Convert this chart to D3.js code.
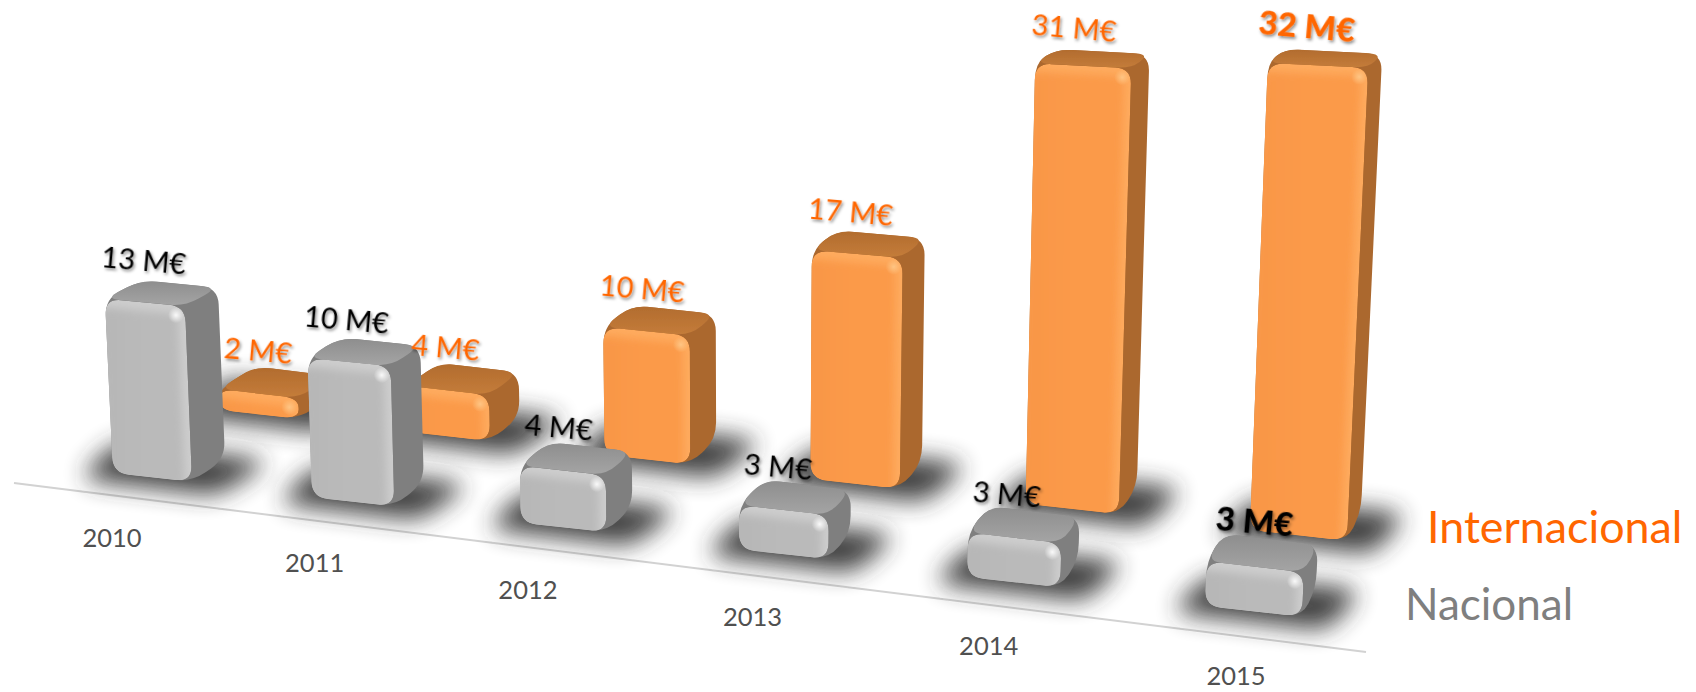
<!DOCTYPE html>
<html><head><meta charset="utf-8">
<script src="https://cdn.jsdelivr.net/npm/d3@7"></script>
<style>html,body{margin:0;padding:0;background:#fff}svg{display:block}text{font-family:Lato,"Open Sans",sans-serif}</style>
</head><body><svg id="c" width="1696" height="692"></svg>
<script>
const years = [2010, 2011, 2012, 2013, 2014, 2015];
const nacional = [13, 10, 4, 3, 3, 3];
const internacional = [2, 4, 10, 17, 31, 32];
const seriesNames = ["Nacional", "Internacional"];
const unit = " M€";

const W = 1696, H = 692;
const svg = d3.select("#c");
const defs = svg.append("defs");

// Perspective: row index -> position 0..1 along the receding floor line
const rowIndex = d3.scalePoint().domain(years).range([20, 25]);
const depth = d3.scalePow().exponent(2).domain([20, 25]).range([0, 1]);
const t = y => depth(rowIndex(y));

const nacX = d3.scaleLinear([0, 1], [113, 1205]);
const nacY = d3.scaleLinear([0, 1], [473, 606]);
const intX = d3.scaleLinear([0, 1], [220, 1250]);
const intY = d3.scaleLinear([0, 1], [410, 530]);
const labX = d3.scaleLinear([0, 1], [112, 1236]);
const labY = d3.scaleLinear([0, 1], [538, 676]);
const lineX = d3.scaleLinear([0, 1], [14, 1366]);
const lineY = d3.scaleLinear([0, 1], [483, 652]);
const barH = d3.scalePow().exponent(1.08).domain([0, 32]).range([6, 467]);
const riseByRow = {
  Nacional: d3.scaleLinear([0, .18, 1], [-6, 2, 3]),
  Internacional: d3.scaleLinear([0, .78, 1], [-8, -11, 0])
};
const frontW = d3.scaleLinear([0, 1], [79, 97]);
const sideDX = d3.scaleLinear([0, 1], [33, 14]);
const sideDY = d3.scaleLinear([0, 1], [-23, -29]);

const palette = {
  Nacional: {edge:"#cdcdcd", body:"#bababa", low:"#b6b6b6", side:"#7f7f7f", top1:"#a4a4a4", top2:"#8e8e8e", hi:"#ffffff", label:"#000000"},
  Internacional: {edge:"#feab5e", body:"#fb9a4a", low:"#f89645", side:"#ab682f", top1:"#c47c3a", top2:"#b26c2e", hi:"#ffc888", label:"#ff6600"}
};

function blur(id, s) {
  defs.append("filter").attr("id", id).attr("x", "-50%").attr("y", "-50%").attr("width", "200%").attr("height", "200%")
    .append("feGaussianBlur").attr("stdDeviation", s);
}
blur("b10", 12); blur("b4", 4); blur("soft", .7);
const ds = defs.append("filter").attr("id", "txt").attr("x", "-20%").attr("y", "-20%").attr("width", "140%").attr("height", "150%");
ds.append("feDropShadow").attr("dx", 1.5).attr("dy", 2).attr("stdDeviation", 1.6).attr("flood-color", "#000").attr("flood-opacity", .45);

for (const s of seriesNames) {
  const p = palette[s];
  const g = defs.append("linearGradient").attr("id", "top" + s).attr("x1", 0).attr("y1", 0).attr("x2", 0).attr("y2", 1);
  g.append("stop").attr("offset", 0).attr("stop-color", p.top2);
  g.append("stop").attr("offset", 1).attr("stop-color", p.top1);
  const f = defs.append("linearGradient").attr("id", "front" + s).attr("x1", 0).attr("y1", 0).attr("x2", 1).attr("y2", 0);
  f.append("stop").attr("offset", 0).attr("stop-color", p.low);
  f.append("stop").attr("offset", .55).attr("stop-color", p.body);
  f.append("stop").attr("offset", 1).attr("stop-color", p.body);
  const r = defs.append("radialGradient").attr("id", "hi" + s);
  r.append("stop").attr("offset", 0).attr("stop-color", p.hi).attr("stop-opacity", .9);
  r.append("stop").attr("offset", 1).attr("stop-color", p.hi).attr("stop-opacity", 0);
}

function rounded(pts, r) {
  const path = d3.path();
  const n = pts.length;
  for (let i = 0; i < n; i++) {
    const a = pts[(i + n - 1) % n], b = pts[i], c = pts[(i + 1) % n];
    const la = Math.hypot(a[0]-b[0], a[1]-b[1]), lc = Math.hypot(c[0]-b[0], c[1]-b[1]);
    const ra = Math.min(r, la / 2.2), rc = Math.min(r, lc / 2.2);
    const p1 = [b[0] + (a[0]-b[0]) * ra / la, b[1] + (a[1]-b[1]) * ra / la];
    const p2 = [b[0] + (c[0]-b[0]) * rc / lc, b[1] + (c[1]-b[1]) * rc / lc];
    if (i === 0) path.moveTo(p1[0], p1[1]); else path.lineTo(p1[0], p1[1]);
    path.quadraticCurveTo(b[0], b[1], p2[0], p2[1]);
  }
  path.closePath();
  return path.toString();
}

function geom(series, year, value) {
  const tt = t(year);
  const x0 = series === "Nacional" ? nacX(tt) : intX(tt);
  const y0 = series === "Nacional" ? nacY(tt) : intY(tt);
  const h = barH(value) + riseByRow[series](tt);
  const w = frontW(tt);
  const lean = (x, hh) => x + hh * (x - 735) / 13500;
  const dx = sideDX(tt), dyB = sideDY(tt), dyT = dyB * (1 - h / 900);
  const slopeB = 0.11, slopeT = 0.12 * (1 - h / 800);
  const fbl = [x0, y0];
  const fbr = [x0 + w, y0 + w * slopeB];
  const ftl = [lean(x0, h), y0 - h];
  const ftr = [lean(x0 + w, h), y0 - h + w * slopeT];
  const btl = [ftl[0] + dx + 3, ftl[1] + dyT];
  const btr = [ftr[0] + dx, ftr[1] + dyT];
  const bbr = [fbr[0] + dx, fbr[1] + dyB];
  return {series, year, value, tt, x0, y0, h, w, fbl, fbr, ftl, ftr, btl, btr, bbr};
}

const gShadow = svg.append("g");
const gBars = svg.append("g");
const gText = svg.append("g");

svg.insert("line", "g")
  .attr("x1", lineX(0)).attr("y1", lineY(0)).attr("x2", lineX(1)).attr("y2", lineY(1))
  .attr("stroke", "#d2d2d2").attr("stroke-width", 2);

let uid = 0;
function drawBar(g) {
  const p = palette[g.series];
  const id = "clip" + (uid++);
  gShadow.append("path")
    .attr("d", rounded([
      [g.fbl[0] - 34, g.fbl[1] + 6],
      [g.fbl[0] + 4, g.fbl[1] - 32],
      [g.bbr[0] + 46, g.bbr[1] + 2],
      [g.fbr[0] + 26, g.fbr[1] + 14]
    ], 18))
    .attr("fill", "#333").attr("opacity", .92).attr("filter", "url(#b10)");

  const b = gBars.append("g").attr("filter", "url(#soft)");
  b.append("path").attr("d", rounded([g.fbl, g.ftl, g.btl, g.btr, g.bbr, g.fbr], 17)).attr("fill", p.side);
  b.append("path").attr("d", rounded([g.ftl, g.btl, g.btr, g.ftr], 15)).attr("fill", `url(#top${g.series})`);
  const front = [g.fbl, g.ftl, g.ftr, g.fbr];
  const fd = rounded(front, 16);
  defs.append("clipPath").attr("id", id).append("path").attr("d", fd);
  const fg = b.append("g").attr("clip-path", `url(#${id})`);
  fg.append("path").attr("d", fd).attr("fill", p.edge);
  const c = [(g.fbl[0]+g.ftr[0])/2, (g.fbl[1]+g.ftr[1])/2];
  // rim light sits on the top and right edges only; left and bottom run out flush
  const inset = front.map(q => {
    const left = q[0] < c[0], up = q[1] < c[1];
    return [q[0] + (left ? -6 : -7), q[1] + (up ? 8 : 8)];
  });
  fg.append("path").attr("d", rounded(inset, 8)).attr("fill", `url(#front${g.series})`).attr("filter", "url(#b4)");
  b.append("circle").attr("cx", g.ftr[0] - 9).attr("cy", g.ftr[1] + 9).attr("r", 8).attr("fill", `url(#hi${g.series})`);
}

years.forEach((y, i) => drawBar(geom("Internacional", y, internacional[i])));
years.forEach((y, i) => drawBar(geom("Nacional", y, nacional[i])));

function label(g, bold) {
  const x = g.ftl[0] + 38 + (bold && g.series === "Nacional" ? 9 : 0);
  const y = g.ftl[1] - 28 + (g.value > 30 ? 3 : 0);
  gText.append("text")
    .attr("transform", `translate(${x},${y}) rotate(5)`)
    .attr("text-anchor", "middle")
    .attr("font-size", bold ? 33 : 29)
    .attr("font-weight", bold ? 900 : 400)
    .attr("fill", palette[g.series].label)
    .attr("filter", "url(#txt)")
    .text(g.value + unit);
}
const lastYear = years[years.length - 1];
years.forEach((y, i) => label(geom("Internacional", y, internacional[i]), y === lastYear));
years.forEach((y, i) => label(geom("Nacional", y, nacional[i]), y === lastYear));

gText.selectAll("text.year").data(years).join("text").attr("class", "year")
  .attr("x", d => labX(t(d)) - 4 * Math.sin(Math.PI * t(d))).attr("y", d => labY(t(d)) + 9)
  .attr("text-anchor", "middle").attr("font-size", 25.5).attr("fill", "#505050")
  .text(d => d);

gText.append("text").attr("x", 1427).attr("y", 543).attr("font-size", 44.8).attr("fill", "#ff6600").text(seriesNames[1]);
gText.append("text").attr("x", 1405).attr("y", 620).attr("font-size", 44).attr("fill", "#7f7f7f").text(seriesNames[0]);
</script></body></html>
